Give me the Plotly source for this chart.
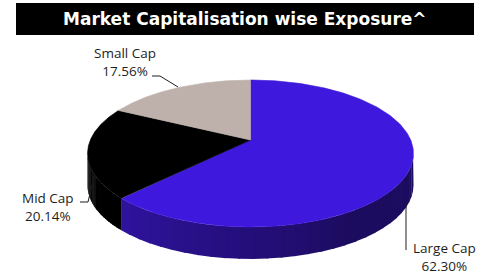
import numpy as np
import plotly.graph_objects as go

# ---- data ----
categories = ["Large Cap", "Mid Cap", "Small Cap"]
values = [62.30, 20.14, 17.56]
title_text = "Market Capitalisation wise Exposure^"

# ---- style ----
top_colors = ["#3F18DD", "#000000", "#BEB1AB"]
side_light = ["#3716BC", "#000000", "#9A8F8A"]
side_dark = ["#1C0C60", "#000000", "#7E746F"]
label_pos = [(444, 257, "center"), (48, 207, "center"), (125, 62, "center")]

# pixel-space geometry of the tilted (perspective) pie
cx, cy, R, S, k, depth = 250.5, 140, 160.2, 71.0, 0.1837, 32
W, H = 490, 276


def pt(t):
    r = np.radians(t)
    w = 1 + k * np.cos(r)
    return cx + R * np.sin(r) / w, cy - S * np.cos(r) / w


def mix(c1, c2, f):
    a = [int(c1[i:i + 2], 16) for i in (1, 3, 5)]
    b = [int(c2[i:i + 2], 16) for i in (1, 3, 5)]
    f = min(max(f, 0.0), 1.0)
    return "#" + "".join(f"{round(x + (y - x) * f):02x}" for x, y in zip(a, b))


fig = go.Figure()
total = sum(values)
spans = []
s = 0.0
for v in values:
    e = s + 360.0 * v / total
    spans.append((s, e))
    s = e

# visible side wall range (between silhouette points)
t_ext = np.degrees(np.arccos(-k))
for (a0, a1), cl, cd in zip(spans, side_light, side_dark):
    lo, hi = max(a0, t_ext), min(a1, 360.0 - t_ext)
    if hi <= lo:
        continue
    nseg = 30
    edges = np.linspace(lo, hi, nseg + 1)
    for i in range(nseg):
        t = np.linspace(edges[i], edges[i + 1] + (0.5 if i < nseg - 1 else 0.0), 10)
        x, y = pt(t)
        xs = np.concatenate([x, x[::-1]])
        ys = np.concatenate([y, (y + depth)[::-1]])
        mid = 0.5 * (edges[i] + edges[i + 1])
        f = (360.0 - t_ext - mid) / 110.0  # darker toward the right
        fig.add_trace(go.Scatter(x=xs, y=ys, fill="toself", fillcolor=mix(cl, cd, f),
                                 line=dict(width=0), mode="lines", hoverinfo="skip",
                                 showlegend=False))

# top faces
for (a0, a1), c, name, v in zip(spans, top_colors, categories, values):
    t = np.linspace(a0, a1, 240)
    x, y = pt(t)
    xs = np.concatenate([[cx], x, [cx]])
    ys = np.concatenate([[cy], y, [cy]])
    fig.add_trace(go.Scatter(x=xs, y=ys, fill="toself", fillcolor=c,
                             line=dict(width=0.6, color=c), mode="lines",
                             name=name, hovertemplate=f"{name}: {v:.2f}%<extra></extra>",
                             showlegend=False))

# labels
for name, v, (lx, ly, al) in zip(categories, values, label_pos):
    fig.add_annotation(x=lx, y=ly, xref="x", yref="y", text=f"{name}<br>{v:.2f}%",
                       showarrow=False, align=al,
                       font=dict(family="'Open Sans', sans-serif", size=13.5, color="#1E1E1E"))

# leader lines
line_style = dict(color="#1E1E1E", width=1)
fig.add_shape(type="path", path="M 152 76 L 160 76 L 178 87", xref="x", yref="y", line=line_style)
fig.add_shape(type="path", path="M 80 202 L 88 202 L 92 185", xref="x", yref="y", line=line_style)
fig.add_shape(type="path", path="M 406 202 L 406 250", xref="x", yref="y", line=line_style)

# title bar
fig.add_shape(type="rect", x0=16, x1=474, y0=3, y1=35, xref="x", yref="y",
              fillcolor="#000000", line=dict(width=0), layer="above")
fig.add_annotation(x=245, y=19, xref="x", yref="y", text=f"<b>{title_text}</b>",
                   showarrow=False, font=dict(family="'DejaVu Sans', sans-serif", size=17, color="#FFFFFF"))

fig.update_layout(
    width=W, height=H, margin=dict(l=0, r=0, t=0, b=0),
    paper_bgcolor="#FFFFFF", plot_bgcolor="#FFFFFF",
    xaxis=dict(range=[0, W], visible=False, fixedrange=True),
    yaxis=dict(range=[H, 0], visible=False, fixedrange=True),
    showlegend=False,
)

fig.write_html("out.html", config={"displayModeBar": False},
               post_script="document.body.style.margin='0';document.body.style.overflow='hidden';")
